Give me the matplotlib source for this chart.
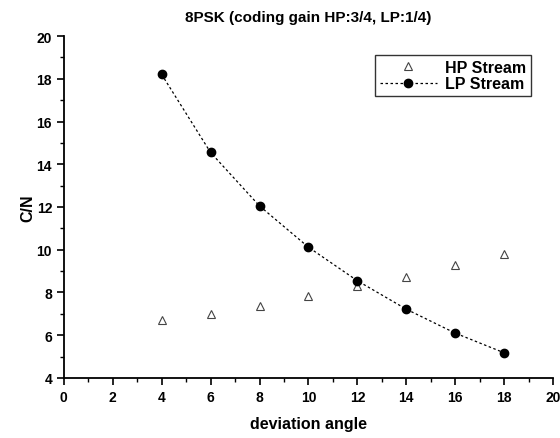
import matplotlib
matplotlib.use("Agg")
import matplotlib.pyplot as plt
from matplotlib.ticker import MultipleLocator

angles = [4, 6, 8, 10, 12, 14, 16, 18]
hp_stream = [6.73, 7.0, 7.38, 7.85, 8.3, 8.72, 9.28, 9.81]
lp_stream = [18.2, 14.55, 12.05, 10.12, 8.55, 7.22, 6.1, 5.18]

plt.rcParams['font.family'] = ['Liberation Sans', 'DejaVu Sans']
plt.rcParams['font.weight'] = 'bold'

fig = plt.figure(figsize=(5.6, 4.39), dpi=100)
ax = fig.add_axes([0.114, 0.1367, 0.8735, 0.779])

ax.plot(angles, hp_stream, linestyle='none', marker='^', markersize=5.5,
        markerfacecolor='white', markeredgecolor='#444444', markeredgewidth=0.8,
        label='HP Stream')
ax.plot(angles, lp_stream, linestyle=(0, (2, 2)), color='black', linewidth=0.9,
        marker='o', markersize=6, markerfacecolor='black', markeredgecolor='black',
        label='LP Stream')

ax.set_xlim(0, 20)
ax.set_ylim(4, 20)
ax.xaxis.set_major_locator(MultipleLocator(2))
ax.xaxis.set_minor_locator(MultipleLocator(1))
ax.yaxis.set_major_locator(MultipleLocator(2))
ax.yaxis.set_minor_locator(MultipleLocator(1))
ax.spines['top'].set_visible(False)
ax.spines['right'].set_visible(False)
ax.spines['left'].set_linewidth(1.3)
ax.spines['bottom'].set_linewidth(1.3)
ax.tick_params(which='major', direction='out', length=5, width=1.2, labelsize=10)
ax.tick_params(which='minor', direction='out', length=3, width=1.0)

ax.set_title('8PSK (coding gain HP:3/4, LP:1/4)', fontsize=11, fontweight='bold', pad=11)
ax.set_xlabel('deviation angle', fontsize=11.5, fontweight='bold', labelpad=9)
ax.set_ylabel('C/N', fontsize=11.5, fontweight='bold', labelpad=1)

leg = ax.legend(loc='upper right', bbox_to_anchor=(0.955, 0.945), fontsize=11.5,
                frameon=True, fancybox=False, edgecolor='black', handlelength=3.6,
                borderpad=0.3, borderaxespad=0, labelspacing=0.1, handletextpad=0.5)
leg.get_frame().set_linewidth(1.0)
leg._legend_box.align = 'left'

fig.savefig('out.png', dpi=100)
